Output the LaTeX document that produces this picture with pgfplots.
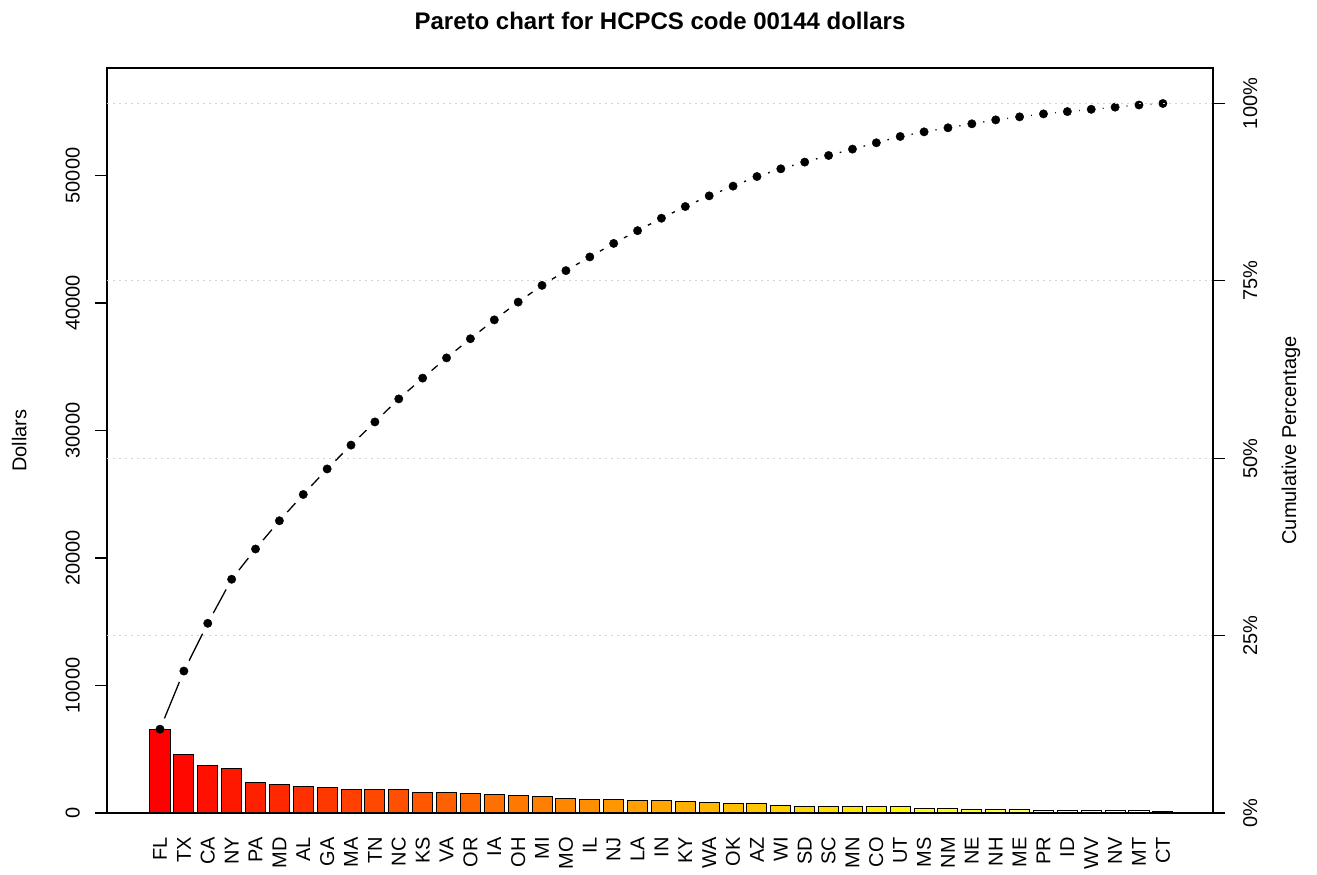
\documentclass[border=0pt]{standalone}
\usepackage{fontspec}
\setmainfont{Liberation Sans}
\usepackage{pgfplots}
\usepackage{pgfplotstable}
\pgfplotsset{compat=1.18}

\definecolor{gridgray}{RGB}{211,211,211}

% dollars per state, sorted; cum is the running total
\pgfplotstableread{
idx state val cum
0 FL 6575 6575
1 TX 4558 11133
2 CA 3746 14879
3 NY 3453 18332
4 PA 2373 20705
5 MD 2216 22921
6 AL 2060 24981
7 GA 2004 26985
8 MA 1868 28853
9 TN 1817 30670
10 NC 1807 32477
11 KS 1631 34108
12 VA 1585 35693
13 OR 1504 37197
14 IA 1479 38676
15 OH 1393 40069
16 MI 1312 41381
17 MO 1156 42537
18 IL 1075 43612
19 NJ 1060 44672
20 LA 1000 45672
21 IN 974 46646
22 KY 919 47565
23 WA 838 48403
24 OK 762 49165
25 AZ 752 49917
26 WI 606 50523
27 SD 525 51048
28 SC 520 51568
29 MN 500 52068
30 CO 495 52563
31 UT 495 53058
32 MS 363 53421
33 NM 318 53739
34 NE 313 54052
35 NH 308 54360
36 ME 237 54597
37 PR 232 54829
38 ID 182 55011
39 WV 177 55188
40 NV 172 55360
41 MT 167 55527
42 CT 121 55648
}\paretodata

\pgfplotsset{
  common/.style={
    scale only axis, width=1106pt, height=745pt,
    xmin=-2.22, xmax=44.10,
    axis line style={line width=1.3pt},
    tick align=outside, major tick length=12pt,
    tick style={black, line width=1.3pt},
    every tick label/.append style={font=\fontsize{20}{24}\selectfont},
    /pgf/number format/assume math mode=true,
  },
  bar/.style={ybar, bar width=0.84, bar shift=0pt, draw=black, line width=1pt},
}

\begin{document}
\begin{tikzpicture}[font=\fontsize{20}{24}\selectfont]
% cumulative line on its own, underneath; white discs keep it short of each point
\begin{axis}[common, hide axis, ymin=0, ymax=58430]
\addplot[black, line width=1.3pt, mark=*, mark size=11pt, mark options={draw=white, fill=white}]
  table[x=idx, y=cum] {\paretodata};
\end{axis}

\begin{axis}[
  common, name=main,
  ymin=0, ymax=58430, scaled y ticks=false,
  xtick={0,...,42}, xticklabels from table={\paretodata}{state},
  xtick pos=bottom, ytick pos=left,
  major x tick style={draw=none},
  xticklabel style={yshift=-12pt, rotate=90, anchor=east, inner sep=0pt},
  ytick={0,10000,20000,30000,40000,50000},
  yticklabels={0,10000,20000,30000,40000,50000},
  yticklabel style={xshift=-15pt, rotate=90, anchor=south, inner sep=0pt},
  ylabel={Dollars},
  every axis y label/.style={at={(axis description cs:0,0.5)}, xshift=-80.5pt, rotate=90, anchor=base},
  title={Pareto chart for HCPCS code 00144 dollars},
  title style={font=\bfseries\fontsize{24}{29}\selectfont, at={(axis description cs:0.5,1)}, yshift=41pt, anchor=center},
]
% heat colours: red to yellow, then yellow fading to white
\pgfplotsinvokeforeach{0,...,32}{
  \addplot[bar, fill={rgb,32:red,32;green,#1}, restrict expr to domain={\coordindex}{#1:#1}]
    table[x=idx, y=val] {\paretodata};
}
\pgfplotsinvokeforeach{1,3,...,19}{
  \addplot[bar, fill={rgb,20:red,20;green,20;blue,#1}, restrict expr to domain={2*\coordindex-65}{#1:#1}]
    table[x=idx, y=val] {\paretodata};
}
\addplot[only marks, mark=*, mark size=4.2pt, black] table[x=idx, y=cum] {\paretodata};
\end{axis}

\begin{axis}[
  common,
  ymin=0, ymax=105,
  axis x line*=bottom, xtick=\empty,
  axis y line*=right,
  ytick={0,25,50,75,100},
  yticklabels={0\%,25\%,50\%,75\%,100\%},
  yticklabel style={xshift=18pt, rotate=90, anchor=north, inner sep=0pt},
  ymajorgrids,
  major grid style={gridgray, line width=1pt, dash pattern=on 1.5pt off 4.5pt},
  ylabel={Cumulative Percentage},
  every axis y label/.style={at={(axis description cs:1,0.5)}, xshift=83pt, rotate=90, anchor=base},
]
\end{axis}

\pgfresetboundingbox
\path[use as bounding box] ([xshift=-107pt,yshift=-61pt]main.south west) rectangle ([xshift=104pt,yshift=68pt]main.north east);
\end{tikzpicture}
\end{document}
